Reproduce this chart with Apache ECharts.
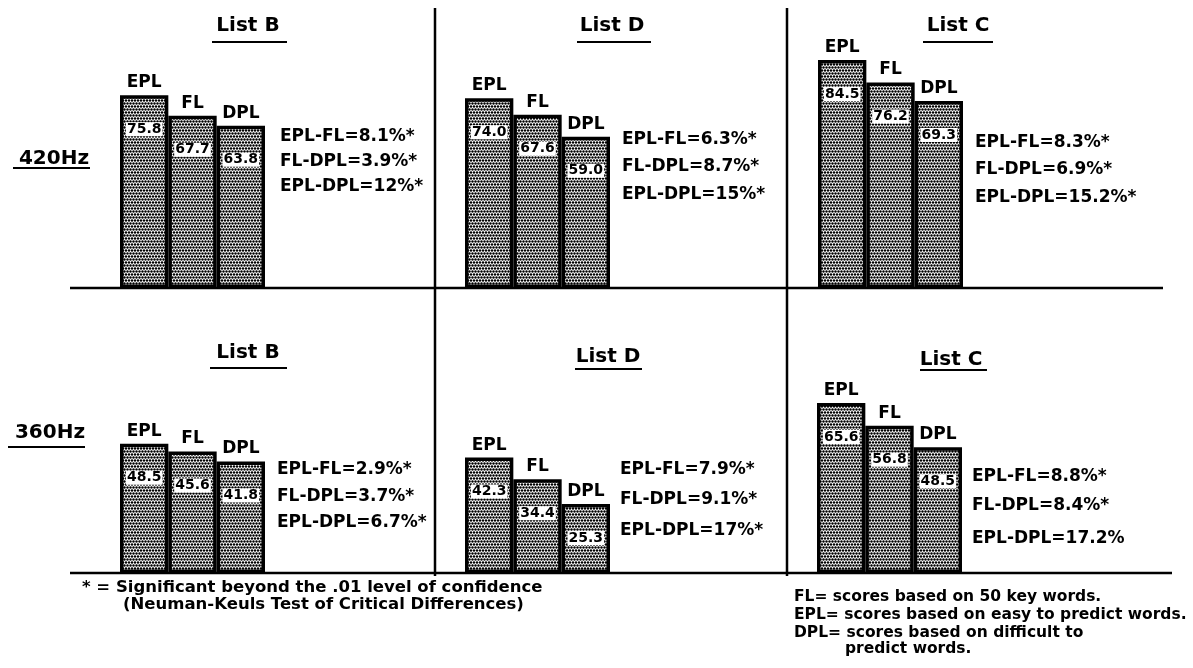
<!DOCTYPE html>
<html>
<head>
<meta charset="utf-8">
<script src="https://cdn.jsdelivr.net/npm/echarts@6/dist/echarts.min.js"></script>
<style>html,body{margin:0;padding:0;background:#fff}#c{width:1193px;height:668px}</style>
</head>
<body>
<div id="c"></div>
<script>
// ---- data ----
const categories = ['EPL', 'FL', 'DPL'];
const listNames = ['List B', 'List D', 'List C'];
const rowLabels = ['420Hz', '360Hz'];

const v420B = [75.8, 67.7, 63.8];
const v420D = [74.0, 67.6, 59.0];
const v420C = [84.5, 76.2, 69.3];
const v360B = [48.5, 45.6, 41.8];
const v360D = [42.3, 34.4, 25.3];
const v360C = [65.6, 56.8, 48.5];

const d420B = ['EPL-FL=8.1%*', 'FL-DPL=3.9%*', 'EPL-DPL=12%*'];
const d420D = ['EPL-FL=6.3%*', 'FL-DPL=8.7%*', 'EPL-DPL=15%*'];
const d420C = ['EPL-FL=8.3%*', 'FL-DPL=6.9%*', 'EPL-DPL=15.2%*'];
const d360B = ['EPL-FL=2.9%*', 'FL-DPL=3.7%*', 'EPL-DPL=6.7%*'];
const d360D = ['EPL-FL=7.9%*', 'FL-DPL=9.1%*', 'EPL-DPL=17%*'];
const d360C = ['EPL-FL=8.8%*', 'FL-DPL=8.4%*', 'EPL-DPL=17.2%'];

const footLeft = ['* = Significant beyond the .01 level of confidence',
                  '(Neuman-Keuls Test of Critical Differences)'];
const footRight = ['FL= scores based on 50 key words.',
                   'EPL= scores based on easy to predict words.',
                   'DPL= scores based on difficult to',
                   'predict words.'];

// ---- layout ----
const FONT = '"DejaVu Sans", sans-serif';
const panels = [
  {vals: v420B, diffs: d420B, title: listNames[0], left: 120, width: 145, base: 288, scale: 2.544, annX: 280, annY: [137, 162, 187], tx: 248, ty: 26, ul: [212, 287, 42]},
  {vals: v420D, diffs: d420D, title: listNames[1], left: 465, width: 145, base: 288, scale: 2.563, annX: 622, annY: [140, 167, 195], tx: 612, ty: 26, ul: [577, 651, 42]},
  {vals: v420C, diffs: d420C, title: listNames[2], left: 818, width: 145, base: 288, scale: 2.698, annX: 975, annY: [143, 170, 198], tx: 958, ty: 26, ul: [923, 993, 42]},
  {vals: v360B, diffs: d360B, title: listNames[0], left: 120, width: 145, base: 573, scale: 2.666, annX: 277, annY: [470, 497, 523], tx: 248, ty: 353, ul: [210, 287, 368]},
  {vals: v360D, diffs: d360D, title: listNames[1], left: 465, width: 145, base: 573, scale: 2.728, annX: 620, annY: [470, 500, 531], tx: 608, ty: 357, ul: [575, 642, 369]},
  {vals: v360C, diffs: d360C, title: listNames[2], left: 817, width: 145, base: 573, scale: 2.591, annX: 972, annY: [477, 506, 539], tx: 951, ty: 360, ul: [920, 987, 370]}
];

// dotted fill pattern
const pat = document.createElement('canvas');
pat.width = 6; pat.height = 6;
const pc = pat.getContext('2d');
pc.fillStyle = '#fff'; pc.fillRect(0, 0, 6, 6);
pc.fillStyle = '#000';
[[1.5, 1.5], [4.5, 1.5], [0, 4.5], [3, 4.5], [6, 4.5]].forEach(p => {
  pc.beginPath(); pc.arc(p[0], p[1], 1.2, 0, Math.PI * 2); pc.fill();
});

const grid = [], xAxis = [], yAxis = [], series = [], graphic = [];
function txt(text, x, y, size, align) {
  graphic.push({type: 'text', silent: true, style: {text: text, x: x, y: y, fill: '#000',
    fontSize: size, fontWeight: 'bold', fontFamily: FONT, align: align || 'left', verticalAlign: 'middle'}});
}
function line(x1, y1, x2, y2, w) {
  graphic.push({type: 'line', silent: true, shape: {x1: x1, y1: y1, x2: x2, y2: y2}, style: {stroke: '#000', lineWidth: w}});
}

panels.forEach((p, i) => {
  const h = 100 * p.scale;
  grid.push({left: p.left, width: p.width, top: p.base - h, height: h});
  xAxis.push({type: 'category', gridIndex: i, data: categories, show: false});
  yAxis.push({type: 'value', gridIndex: i, min: 0, max: 100, show: false});
  series.push({
    type: 'bar', xAxisIndex: i, yAxisIndex: i, data: p.vals, barCategoryGap: 0, barGap: '-100%',
    itemStyle: {color: {image: pat, repeat: 'repeat'}, borderColor: '#000', borderWidth: 3.5},
    label: {show: true, position: 'top', distance: 4, formatter: '{b}', color: '#000',
      fontSize: 17, fontWeight: 'bold', fontFamily: FONT},
    animation: false, silent: true
  });
  series.push({
    type: 'bar', xAxisIndex: i, yAxisIndex: i, data: p.vals, barCategoryGap: 0, barGap: '-100%',
    itemStyle: {color: 'transparent', borderWidth: 0},
    label: {show: true, position: 'insideTop', distance: 27, color: '#000',
      formatter: v => v.value.toFixed(1), backgroundColor: '#fff', padding: [0, 1],
      fontSize: 14, fontWeight: 'bold', fontFamily: FONT},
    animation: false, silent: true, z: 3
  });
  p.diffs.forEach((d, k) => txt(d, p.annX, p.annY[k], 17));
  txt(p.title, p.tx, p.ty, 20, 'center');
  line(p.ul[0], p.ul[2], p.ul[1], p.ul[2], 2);
});

// frame lines
line(70, 288, 1163, 288, 2.5);
line(70, 573, 1172, 573, 2.5);
line(435, 8, 435, 576, 2.5);
line(787, 8, 787, 576, 2.5);

// row labels
txt(rowLabels[0], 54, 159, 20, 'center');
line(13, 168, 90, 168, 2);
txt(rowLabels[1], 50, 433, 20, 'center');
line(8, 447, 85, 447, 2);

// footnotes
txt(footLeft[0], 82, 588, 16.5);
txt(footLeft[1], 123, 605, 16.5);
txt(footRight[0], 794, 597, 15.5);
txt(footRight[1], 794, 615, 15.5);
txt(footRight[2], 794, 633, 15.5);
txt(footRight[3], 845, 649, 15.5);

const chart = echarts.init(document.getElementById('c'), null, {renderer: 'canvas'});
chart.setOption({backgroundColor: '#fff', animation: false, grid, xAxis, yAxis, series, graphic});
</script>
</body>
</html>
